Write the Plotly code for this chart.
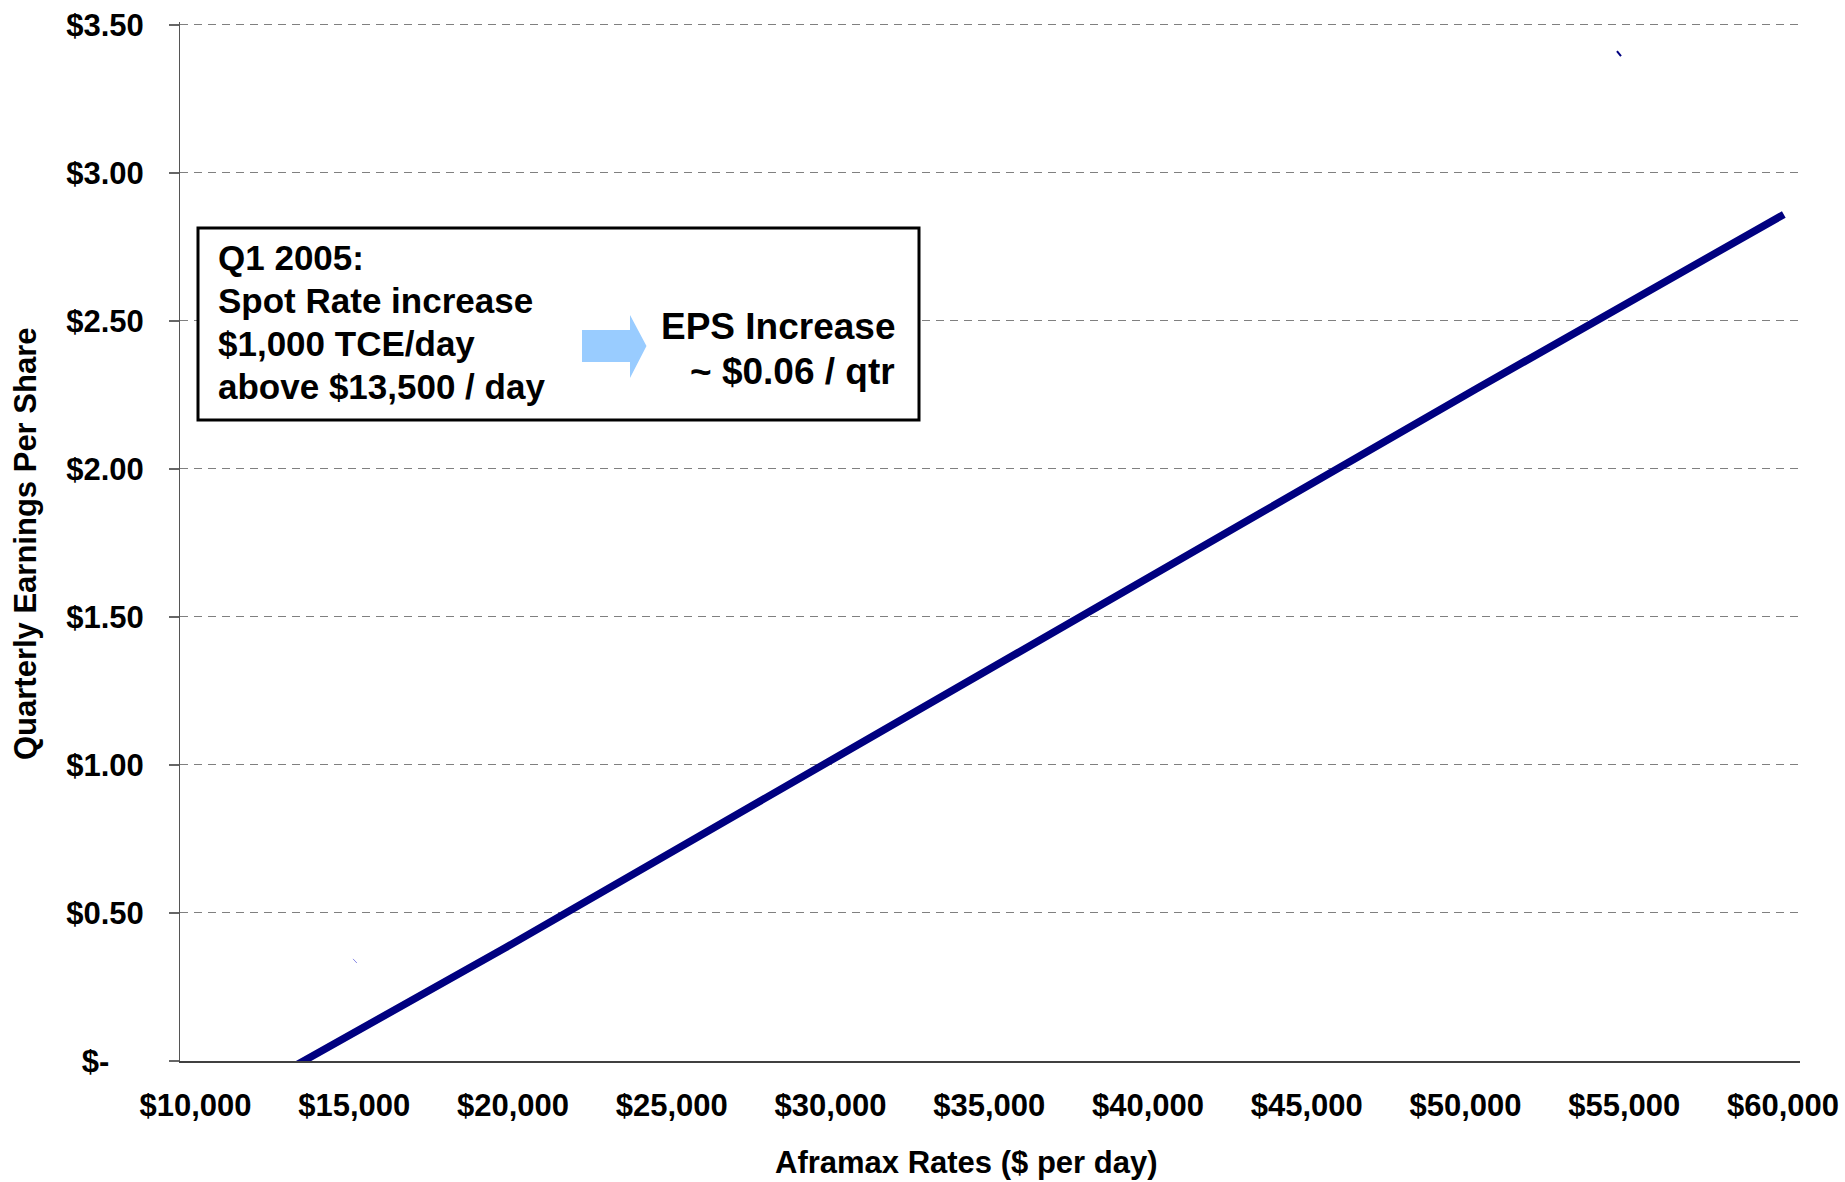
import plotly.graph_objects as go

# ---- data ----
rate_x = [13000, 20000, 30000, 40000, 50000, 59500]
eps_y = [-0.05, 0.38, 1.01, 1.64, 2.27, 2.86]

stray_top_x = [54350, 54475]
stray_top_y = [3.412, 3.395]
stray_low_x = [15340, 15460]
stray_low_y = [0.345, 0.331]

x_tick_vals = [10000, 15000, 20000, 25000, 30000, 35000, 40000, 45000, 50000, 55000, 60000]
x_tick_text = ["$10,000", "$15,000", "$20,000", "$25,000", "$30,000", "$35,000",
               "$40,000", "$45,000", "$50,000", "$55,000", "$60,000"]
y_tick_vals = [0, 0.5, 1.0, 1.5, 2.0, 2.5, 3.0, 3.5]
y_tick_text = ["$-\u00a0\u00a0\u00a0\u00a0", "$0.50", "$1.00", "$1.50", "$2.00", "$2.50", "$3.00", "$3.50"]

box_lines = ["Q1 2005:", "Spot Rate increase", "$1,000 TCE/day", "above $13,500 / day"]
result_lines = ["EPS Increase", "~ $0.06 / qtr"]
x_title = "Aframax Rates ($ per day)"
y_title = "Quarterly Earnings Per Share"

FONT = "Liberation Sans, Arial, sans-serif"

# layout geometry helpers (pixel -> paper)
L, R, T, B = 180, 45, 22, 121
W, H = 1845, 1182
PW, PH = W - L - R, H - T - B


def px(x):
    return (x - L) / PW


def py(y):
    return (H - B - y) / PH


fig = go.Figure()
fig.add_trace(go.Scatter(x=rate_x, y=eps_y, mode="lines",
                         line=dict(color="#000080", width=7.5), hoverinfo="skip"))
fig.add_trace(go.Scatter(x=stray_top_x, y=stray_top_y, mode="lines",
                         line=dict(color="#000080", width=2), hoverinfo="skip"))
fig.add_trace(go.Scatter(x=stray_low_x, y=stray_low_y, mode="lines",
                         line=dict(color="#8a8ae6", width=1), hoverinfo="skip"))

tick_font = dict(family=FONT, size=31, color="black", weight="bold")

fig.update_layout(
    width=W, height=H,
    margin=dict(l=L, r=R, t=T, b=B, pad=0, autoexpand=False),
    paper_bgcolor="white", plot_bgcolor="white",
    showlegend=False,
    font=dict(family=FONT, size=31, color="black", weight="bold"),
    xaxis=dict(
        range=[10000, 60000], tickvals=x_tick_vals, automargin=False,
        showticklabels=False, showgrid=False, zeroline=False, ticks="",
        showline=True, linecolor="#404040", linewidth=2,
    ),
    # label axis: the reference's tick labels sit on a slightly narrower span than the plot
    xaxis2=dict(
        overlaying="x", anchor="y", side="bottom", automargin=False,
        range=[9512, 60535], tickvals=x_tick_vals, ticktext=x_tick_text,
        showgrid=False, zeroline=False, ticks="", showline=False,
        tickfont=tick_font, ticklabelstandoff=23, ticklabeloverflow="allow",
    ),
    yaxis=dict(
        range=[0, 3.51], tickvals=y_tick_vals, ticktext=y_tick_text, automargin=False,
        showgrid=True, gridcolor="#808080", gridwidth=1, griddash="8px,6px",
        zeroline=False, ticks="outside", ticklen=10, tickcolor="#666666", tickwidth=1.5,
        showline=True, linecolor="#555555", linewidth=1,
        tickfont=tick_font, ticklabelstandoff=19,
    ),
)
# invisible anchor trace so the label axis renders
fig.add_trace(go.Scatter(x=[x_tick_vals[0]], y=[None], xaxis="x2", yaxis="y",
                         mode="markers", marker=dict(opacity=0), hoverinfo="skip",
                         showlegend=False))

# annotation box
fig.add_shape(type="rect", xref="paper", yref="paper",
              x0=px(198), x1=px(919), y0=py(420), y1=py(228),
              line=dict(color="black", width=3), fillcolor="white", layer="above")

# arrow
pts = [(582, 330), (630, 330), (630, 315), (646.5, 346), (630, 378), (630, 362), (582, 362)]
path = "M " + " L ".join(f"{px(a):.5f},{py(b):.5f}" for a, b in pts) + " Z"
fig.add_shape(type="path", xref="paper", yref="paper", path=path,
              fillcolor="#99CCFF", line=dict(width=0), layer="above")

line_y = [258, 300.5, 343, 386]
for txt, yy in zip(box_lines, line_y):
    fig.add_annotation(text=txt, xref="paper", yref="paper", x=px(216), y=py(yy),
                       xanchor="left", yanchor="middle", showarrow=False,
                       font=dict(family=FONT, size=35, color="black", weight="bold"))

res_y = [326, 371]
for txt, yy in zip(result_lines, res_y):
    fig.add_annotation(text=txt, xref="paper", yref="paper", x=px(897), y=py(yy),
                       xanchor="right", yanchor="middle", showarrow=False,
                       font=dict(family=FONT, size=37, color="black", weight="bold"))

# axis titles
fig.add_annotation(text=y_title, xref="paper", yref="paper", x=px(26), y=py(544),
                   xanchor="center", yanchor="middle", textangle=-90, showarrow=False,
                   font=dict(family=FONT, size=31, color="black", weight="bold"))
fig.add_annotation(text=x_title, xref="paper", yref="paper", x=px(966), y=py(1162),
                   xanchor="center", yanchor="middle", showarrow=False,
                   font=dict(family=FONT, size=31, color="black", weight="bold"))

fig.write_html("out.html")
